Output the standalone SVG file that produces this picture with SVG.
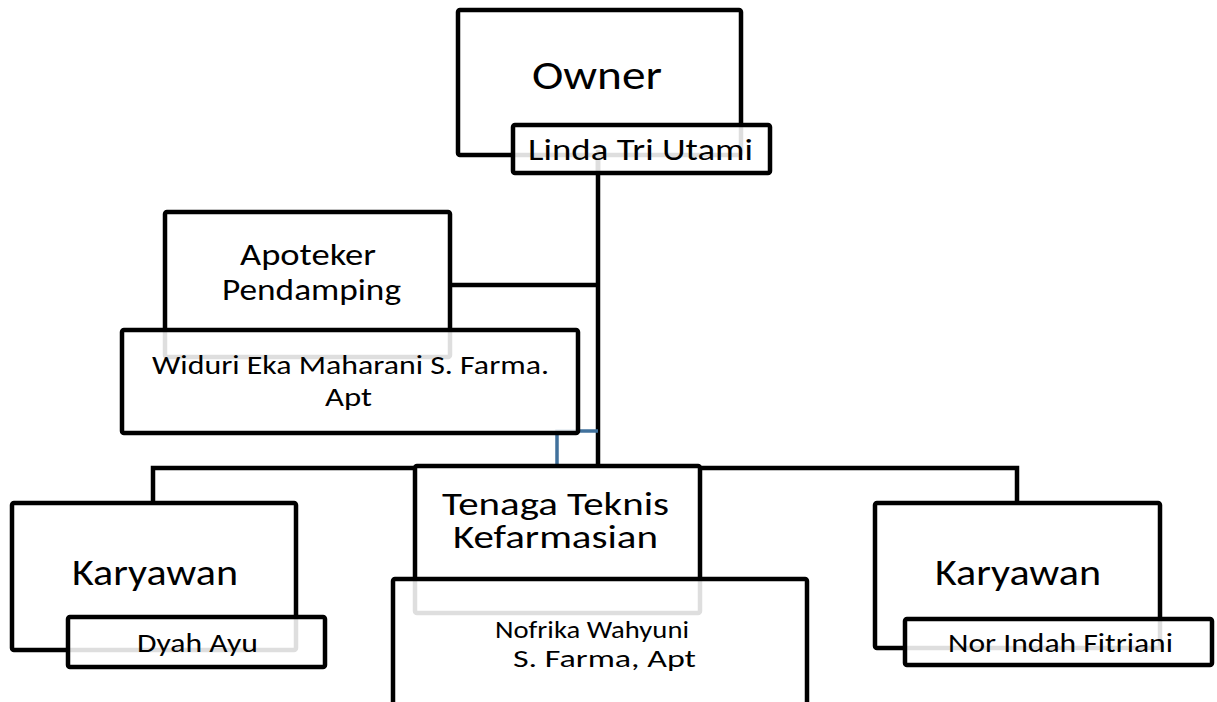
<svg xmlns="http://www.w3.org/2000/svg" width="1217" height="702" viewBox="0 0 1217 702">
<style>
.box{fill:#fff;stroke:#000;stroke-width:4.5;stroke-linejoin:round}
.sub{fill:#fff;fill-opacity:0.87;stroke:#000;stroke-width:4.5;stroke-linejoin:round}
.ln{fill:none;stroke:#000;stroke-width:4.5}
.blue{fill:none;stroke:#41719c;stroke-width:3.5}
text{font-family:Carlito,Calibri,Lato,"Open Sans",sans-serif;fill:#000}
</style>
<rect width="1217" height="702" fill="#fff"/>
<g id="connectors">
<path class="ln" d="M598,150 V468"/>
<path class="ln" d="M448,285 H598"/>
<path class="ln" d="M153,505 V468 H1017 V505"/>
<path class="blue" d="M598,431 H557 V468"/>
</g>
<g id="owner">
<rect class="box" x="458" y="10" width="283" height="145" rx="2"/>
<path class="ln" d="M598,150 V175"/>
<text x="532" y="89" font-size="40" textLength="130" lengthAdjust="spacingAndGlyphs">Owner</text>
</g>
<g id="owner-name">
<rect class="sub" x="513" y="125" width="257" height="48" rx="2"/>
<text x="528" y="160" font-size="31" textLength="225" lengthAdjust="spacingAndGlyphs">Linda Tri Utami</text>
</g>
<g id="apoteker">
<rect class="box" x="165" y="212" width="285" height="145" rx="2"/>
<text x="240" y="265" font-size="31" textLength="136" lengthAdjust="spacingAndGlyphs">Apoteker</text>
<text x="222" y="300" font-size="31" textLength="179" lengthAdjust="spacingAndGlyphs">Pendamping</text>
</g>
<g id="apoteker-name">
<rect class="sub" x="122" y="330" width="456" height="103" rx="2"/>
<text x="152" y="374" font-size="27" textLength="397" lengthAdjust="spacingAndGlyphs">Widuri Eka Maharani S. Farma.</text>
<text x="325" y="406" font-size="27" textLength="47" lengthAdjust="spacingAndGlyphs">Apt</text>
</g>
<g id="karyawan-left">
<rect class="box" x="12" y="503" width="284" height="147" rx="2"/>
<text x="72" y="585" font-size="37" textLength="166" lengthAdjust="spacingAndGlyphs">Karyawan</text>
</g>
<g id="karyawan-left-name">
<rect class="sub" x="68" y="617" width="257" height="50" rx="2"/>
<text x="137" y="652" font-size="26" textLength="121" lengthAdjust="spacingAndGlyphs">Dyah Ayu</text>
</g>
<g id="ttk">
<rect class="box" x="415" y="466" width="285" height="147" rx="2"/>
<text x="442" y="515" font-size="32" textLength="227" lengthAdjust="spacingAndGlyphs">Tenaga Teknis</text>
<text x="453" y="548" font-size="32" textLength="205" lengthAdjust="spacingAndGlyphs">Kefarmasian</text>
</g>
<g id="ttk-name">
<rect class="sub" x="393" y="579" width="414" height="135" rx="2"/>
<text x="495" y="638" font-size="25" textLength="194" lengthAdjust="spacingAndGlyphs">Nofrika Wahyuni</text>
<text x="513" y="667" font-size="25" textLength="183" lengthAdjust="spacingAndGlyphs">S. Farma, Apt</text>
</g>
<g id="karyawan-right">
<rect class="box" x="875" y="503" width="285" height="145" rx="2"/>
<text x="935" y="585" font-size="37" textLength="166" lengthAdjust="spacingAndGlyphs">Karyawan</text>
</g>
<g id="karyawan-right-name">
<rect class="sub" x="905" y="619" width="307" height="46" rx="2"/>
<text x="948" y="652" font-size="26" textLength="225" lengthAdjust="spacingAndGlyphs">Nor Indah Fitriani</text>
</g>
</svg>
